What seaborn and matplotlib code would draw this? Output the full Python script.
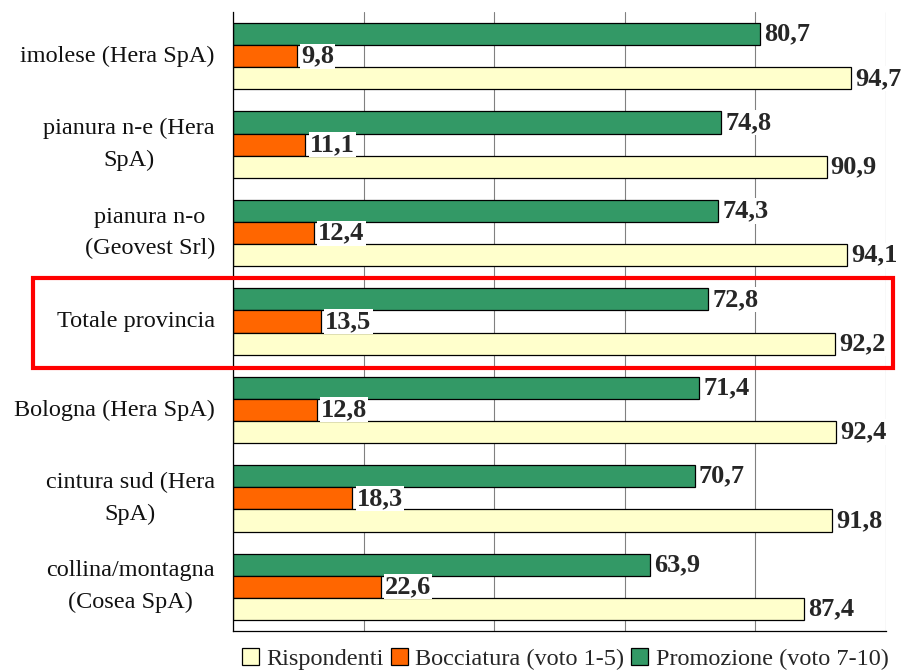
import numpy as np
import pandas as pd
import matplotlib
matplotlib.use('Agg')
import matplotlib.pyplot as plt
import seaborn as sns
from matplotlib.patches import Patch, Rectangle

# dati
categorie = ['imolese (Hera SpA)', 'pianura n-e (Hera\nSpA)', 'pianura n-o\n(Geovest Srl)',
             'Totale provincia', 'Bologna (Hera SpA)', 'cintura sud (Hera\nSpA)',
             'collina/montagna\n(Cosea SpA)']
promozione = [80.7, 74.8, 74.3, 72.8, 71.4, 70.7, 63.9]
bocciatura = [9.8, 11.1, 12.4, 13.5, 12.8, 18.3, 22.6]
rispondenti = [94.7, 90.9, 94.1, 92.2, 92.4, 91.8, 87.4]

serie = ['Promozione (voto 7-10)', 'Bocciatura (voto 1-5)', 'Rispondenti']
colori = {'Promozione (voto 7-10)': '#339966',
          'Bocciatura (voto 1-5)': '#FF6600',
          'Rispondenti': '#FFFFCC'}

df = pd.DataFrame({
    'categoria': categorie * 3,
    'serie': [serie[0]] * 7 + [serie[1]] * 7 + [serie[2]] * 7,
    'valore': promozione + bocciatura + rispondenti,
})

sns.set_style('white')
plt.rcParams['font.family'] = ['Liberation Serif', 'DejaVu Serif']

fig = plt.figure(figsize=(9.01, 6.71), dpi=100)
ax = fig.add_axes([233 / 901, 1 - 631 / 671, 653 / 901, 619 / 671])

sns.barplot(data=df, y='categoria', x='valore', hue='serie', hue_order=serie,
            order=categorie, palette=colori, width=0.75, orient='h',
            edgecolor='black', linewidth=0.9, saturation=1, legend=False, ax=ax)

ax.set_xlim(0, 100)
ax.set_ylim(6.5, -0.5)
ax.set_xticks(np.arange(0, 101, 20))
ax.set_xticklabels([])
ax.tick_params(axis='x', length=0)
ax.xaxis.grid(True, color='#808080', linewidth=0.8)
ax.set_axisbelow(True)
ax.set_xlabel('')
ax.set_ylabel('')

ax.set_yticks(range(7))
ax.set_yticklabels(categorie, fontsize=17.5, linespacing=1.65,
                   ha='right', va='center', multialignment='center', color='#111111')
ax.tick_params(axis='y', which='major', length=0, pad=13)
ax.set_yticks(np.arange(-0.5, 7, 1), minor=True)
ax.tick_params(axis='y', which='minor', length=6, width=0.9, direction='out')

for s in ['top', 'right']:
    ax.spines[s].set_visible(False)
for s in ['left', 'bottom']:
    ax.spines[s].set_color('black')
    ax.spines[s].set_linewidth(0.9)

for cont in ax.containers:
    ax.bar_label(cont, labels=[f'{v:.1f}'.replace('.', ',') for v in cont.datavalues],
                 padding=3, fontsize=19, fontweight='bold',
                 bbox=dict(facecolor='white', edgecolor='none', pad=0.8))

# riquadro rosso attorno al totale
fig.patches.append(Rectangle((33 / 901, 1 - 368 / 671), 860 / 901, 90 / 671,
                             transform=fig.transFigure, fill=False,
                             edgecolor='#FF0000', linewidth=3, zorder=10))

nomi_legenda = ['Rispondenti', 'Bocciatura (voto 1-5)', 'Promozione (voto 7-10)']
handles = [Patch(facecolor=colori[k], edgecolor='black', linewidth=0.9)
           for k in nomi_legenda]
fig.legend(handles, nomi_legenda,
           loc='center', bbox_to_anchor=(565 / 901, 1 - 659 / 671), ncol=3,
           frameon=False, fontsize=17.5, handlelength=0.7, handleheight=0.7,
           handletextpad=0.3, columnspacing=0.3, borderaxespad=0)

fig.savefig('out.png', dpi=100)
